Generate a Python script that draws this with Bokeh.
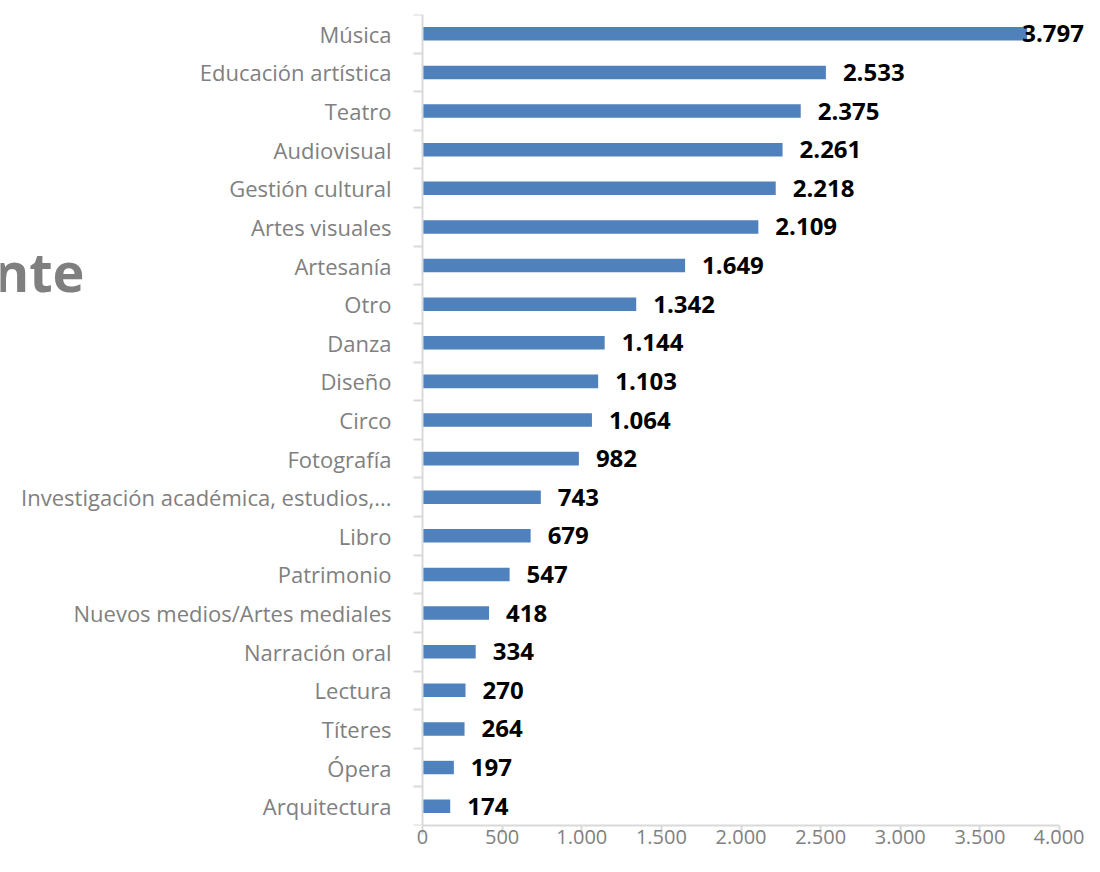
from bokeh.plotting import figure
from bokeh.models import ColumnDataSource, Range1d, FixedTicker, Label, LinearAxis
from bokeh.core.properties import value
from bokeh.embed import file_html
from bokeh.resources import INLINE

categories = [
    "Música", "Educación artística", "Teatro", "Audiovisual", "Gestión cultural",
    "Artes visuales", "Artesanía", "Otro", "Danza", "Diseño", "Circo", "Fotografía",
    "Investigación académica, estudios,...", "Libro", "Patrimonio",
    "Nuevos medios/Artes mediales", "Narración oral", "Lectura", "Títeres", "Ópera",
    "Arquitectura",
]
values = [3797, 2533, 2375, 2261, 2218, 2109, 1649, 1342, 1144, 1103, 1064, 982,
          743, 679, 547, 418, 334, 270, 264, 197, 174]
x_ticks = [0, 500, 1000, 1500, 2000, 2500, 3000, 3500, 4000]
title_fragment = "nte"


def fmt(v):
    return f"{v:,}".replace(",", ".")


n = len(categories)
ypos = list(range(n - 1, -1, -1))
offsets = [-5 if v == max(values) else 17 for v in values]

src = ColumnDataSource(dict(
    y=ypos, v=values, lab=[fmt(v) for v in values], off=offsets,
))

FONT = "Open Sans"
GRAY = "#808080"
AXIS = "#d9d9d9"
PX_PER_UNIT = 0.15925
W, H = 1084, 856
ZERO_PX = 422  # where the value axis starts

p = figure(
    width=W, height=H,
    x_range=Range1d(-ZERO_PX / PX_PER_UNIT, (W - ZERO_PX) / PX_PER_UNIT),
    y_range=Range1d(-0.5, n - 0.5),
    output_backend="svg", toolbar_location=None,
    min_border_left=0, min_border_right=0, min_border_top=14, min_border_bottom=31,
    x_axis_location=None, y_axis_location=None,
)
p.outline_line_color = None
p.xgrid.grid_line_color = None
p.ygrid.grid_line_color = None

p.hbar(y="y", left=0, right="v", height=0.35, source=src,
       fill_color="#4f81bd", line_color=None)

p.text(x="v", y="y", text="lab", x_offset="off", source=src,
       text_font=value(FONT), text_font_style="bold", text_font_size="24px",
       text_color="black", text_baseline="middle", text_align="left")

# category axis drawn at value 0: labels at centers, tick marks at boundaries
yax = LinearAxis(
    ticker=FixedTicker(ticks=ypos, minor_ticks=[i - 0.5 for i in range(n + 1)]),
    major_label_overrides={y: c for y, c in zip(ypos, categories)},
    fixed_location=0,
)
yax.axis_line_color = AXIS
yax.axis_line_width = 2
yax.major_tick_line_color = None
yax.major_tick_out = 0
yax.major_tick_in = 0
yax.minor_tick_line_color = AXIS
yax.minor_tick_line_width = 2
yax.minor_tick_out = 9
yax.minor_tick_in = 0
yax.major_label_standoff = 22
yax.major_label_text_font = FONT
yax.major_label_text_font_size = "22px"
yax.major_label_text_color = GRAY
p.add_layout(yax, "left")

xax = LinearAxis(
    ticker=FixedTicker(ticks=x_ticks, minor_ticks=[]),
    major_label_overrides={t: fmt(t) for t in x_ticks},
    bounds=(0, 4000),
)
xax.axis_line_color = AXIS
xax.axis_line_width = 2
xax.major_tick_line_color = AXIS
xax.major_tick_line_width = 2
xax.major_tick_out = 9
xax.major_tick_in = 0
xax.minor_tick_line_color = None
xax.major_label_standoff = -5
xax.major_label_text_font = FONT
xax.major_label_text_font_size = "20px"
xax.major_label_text_color = GRAY
p.add_layout(xax, "below")

# cut-off heading fragment at the left edge
p.add_layout(Label(
    x=(84 - ZERO_PX) / PX_PER_UNIT, y=13.87, text=title_fragment,
    text_font=FONT, text_font_style="bold", text_font_size="54px",
    text_color="#7f7f7f", text_align="right", text_baseline="alphabetic",
))

open("out.html", "w").write(file_html(p, INLINE))
